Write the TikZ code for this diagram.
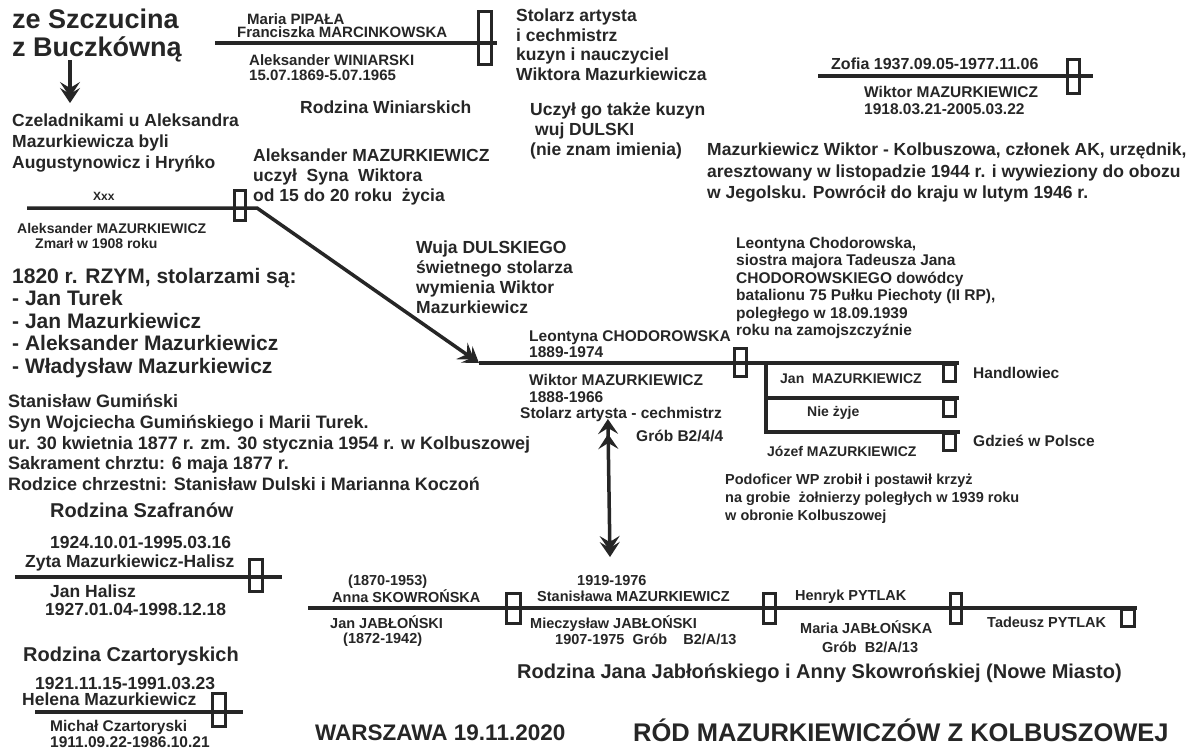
\documentclass[tikz,border=0pt]{standalone}
\usepackage{fontspec}
\setmainfont{Liberation Sans}
\usetikzlibrary{arrows.meta}
\definecolor{ink}{HTML}{262626}
\tikzset{
  tx/.style={anchor=base west, inner sep=0pt, text=ink},
  fs/.style={font=\bfseries\fontsize{#1}{#1}\selectfont},
  sm/.style={tx, fs=14.5},
  md/.style={tx, fs=17.5},
  lg/.style={tx, fs=20},
  famline/.style={draw=ink, line width=3.5pt},
  grave/.style={draw=ink, line width=3pt, inner sep=0pt, minimum width=12pt, minimum height=31pt},
  kidbox/.style={draw=ink, line width=3pt, inner sep=0pt, minimum width=12pt, minimum height=17pt, anchor=north east},
  barbtip/.style={-{Stealth[length=15pt,width=20pt,inset=6pt,sep=-9pt] Stealth[length=15pt,width=20pt,inset=6pt]}},
  barbboth/.style={{Stealth[length=15pt,width=20pt,inset=6pt,sep=-9pt] Stealth[length=15pt,width=20pt,inset=6pt]}-{Stealth[length=15pt,width=20pt,inset=6pt,sep=-9pt] Stealth[length=15pt,width=20pt,inset=6pt]}}
}
\begin{document}
\begin{tikzpicture}[x=1pt,y=-1pt]
\fill[white] (0,0) rectangle (1198,748);
\useasboundingbox (0,0) rectangle (1198,748);

% --- origin of the family ---
\node[tx,fs=27] (orig1) at (12,28) {ze Szczucina};
\node[tx,fs=27] (orig2) at (12,56) {z Buczkówną};
\coordinate (arrA) at (70,60);
\coordinate (arrB) at (70,103);
\draw[ink, line width=3.5pt, barbtip] (arrA) -- (arrB);

\node[md] (cz1) at (12,126) {Czeladnikami u Aleksandra};
\node[md] (cz2) at (12,147) {Mazurkiewicza byli};
\node[md] (cz3) at (12,168) {Augustynowicz i Hryńko};

% --- Winiarski family ---
\coordinate (winL) at (215,43);
\coordinate (winR) at (497,43);
\draw[famline] (winL) -- (winR);
\node[grave, minimum width=13pt, minimum height=53pt] (winG) at (484.5,37.5) {};
\node[tx,fs=15] (win1) at (247,24) {Maria PIPAŁA};
\node[tx,fs=15] (win2) at (237,37) {Franciszka MARCINKOWSKA};
\node[tx,fs=15] (win3) at (249,65) {Aleksander WINIARSKI};
\node[tx,fs=15] (win4) at (249,80) {15.07.1869-5.07.1965};
\node[md] (winT) at (300,113) {Rodzina Winiarskich};

\node[md] (st1) at (516,21.5) {Stolarz artysta};
\node[md] (st2) at (516,41) {i cechmistrz};
\node[md] (st3) at (516,60.5) {kuzyn i nauczyciel};
\node[md] (st4) at (516,80) {Wiktora Mazurkiewicza};

\node[md] (uc1) at (530,115) {Uczył go także kuzyn};
\node[md] (uc2) at (535,135) {wuj DULSKI};
\node[md] (uc3) at (530,155) {(nie znam imienia)};

% --- Wiktor (1918) and Zofia ---
\coordinate (zofL) at (818,76);
\coordinate (zofR) at (1093,76);
\draw[famline] (zofL) -- (zofR);
\node[grave, minimum height=34pt] (zofG) at (1073,76.5) {};
\node[tx,fs=16] (zof1) at (831,69) {Zofia 1937.09.05-1977.11.06};
\node[tx,fs=15.5] (zof2) at (864,97) {Wiktor MAZURKIEWICZ};
\node[tx,fs=15.5] (zof3) at (864,114) {1918.03.21-2005.03.22};

\node[md] (wk1) at (707,155) {Mazurkiewicz Wiktor - Kolbuszowa, członek AK, urzędnik,};
\node[md] (wk2) at (707,177) {aresztowany w listopadzie 1944 r. i wywieziony do obozu};
\node[md] (wk3) at (707,198) {w Jegolsku. Powrócił do kraju w lutym 1946 r.};

% --- Aleksander Mazurkiewicz ---
\node[md] (al1) at (253,161) {Aleksander MAZURKIEWICZ};
\node[md] (al2) at (253,181) {uczył\ \ Syna\ \ Wiktora};
\node[md] (al3) at (253,201) {od 15 do 20 roku\ \ życia};

\coordinate (aleL) at (27,208);
\coordinate (aleK) at (257,208);
\coordinate (chL) at (479,363);
\draw[famline, line join=miter, barbtip] (aleL) -- (aleK) -- (chL);
\node[grave, minimum width=11pt, minimum height=30pt] (aleG) at (240,205.5) {};
\node[tx,fs=12] (ale0) at (93,200) {Xxx};
\node[tx,fs=14] (ale1) at (17,233) {Aleksander MAZURKIEWICZ};
\node[tx,fs=14] (ale2) at (35,248) {Zmarł w 1908 roku};

% --- Rome 1820 ---
\node[tx,fs=21] (rz1) at (12,283) {1820 r. RZYM, stolarzami są:};
\node[tx,fs=21] (rz2) at (12,305.5) {- Jan Turek};
\node[tx,fs=21] (rz3) at (12,328) {- Jan Mazurkiewicz};
\node[tx,fs=21] (rz4) at (12,350.5) {- Aleksander Mazurkiewicz};
\node[tx,fs=21] (rz5) at (12,373) {- Władysław Mazurkiewicz};

\node[tx,fs=18] (gu1) at (8,407) {Stanisław Gumiński};
\node[tx,fs=18] (gu2) at (8,428) {Syn Wojciecha Gumińskiego i Marii Turek.};
\node[tx,fs=18] (gu3) at (8,449) {ur. 30 kwietnia 1877 r. zm. 30 stycznia 1954 r. w Kolbuszowej};
\node[tx,fs=18] (gu4) at (8,469.5) {Sakrament chrztu: 6 maja 1877 r.};
\node[tx,fs=18] (gu5) at (8,490) {Rodzice chrzestni: Stanisław Dulski i Marianna Koczoń};

% --- Szafran family ---
\node[lg] (szT) at (50,517) {Rodzina Szafranów};
\node[md] (sz1) at (50,548) {1924.10.01-1995.03.16};
\node[md] (sz2) at (25,567) {Zyta Mazurkiewicz-Halisz};
\coordinate (szL) at (15,577);
\coordinate (szR) at (282,577);
\draw[famline] (szL) -- (szR);
\node[grave, minimum width=13pt, minimum height=32pt] (szG) at (256,575.5) {};
\node[md] (sz3) at (50,597) {Jan Halisz};
\node[md] (sz4) at (45,615) {1927.01.04-1998.12.18};

% --- Czartoryski family ---
\node[lg] (ctT) at (23,661) {Rodzina Czartoryskich};
\node[md] (ct1) at (35,689) {1921.11.15-1991.03.23};
\node[md] (ct2) at (22,705) {Helena Mazurkiewicz};
\coordinate (ctL) at (35,712);
\coordinate (ctR) at (243,712);
\draw[famline] (ctL) -- (ctR);
\node[grave, minimum width=13pt, minimum height=33pt] (ctG) at (219,710) {};
\node[tx,fs=15.5] (ct3) at (50,731) {Michał Czartoryski};
\node[tx,fs=15.5] (ct4) at (50,747) {1911.09.22-1986.10.21};

% --- Wiktor (1888) and Leontyna ---
\node[md] (du1) at (416,253) {Wuja DULSKIEGO};
\node[md] (du2) at (416,273) {świetnego stolarza};
\node[md] (du3) at (416,293) {wymienia Wiktor};
\node[md] (du4) at (416,313) {Mazurkiewicz};

\coordinate (chR) at (958.5,363);
\draw[famline] (chL) -- (chR);
\node[grave, minimum height=28pt] (chG) at (740.5,362.5) {};
\node[tx,fs=15.5] (ch1) at (529,341) {Leontyna CHODOROWSKA};
\node[tx,fs=15.5] (ch2) at (529,357) {1889-1974};
\node[tx,fs=15.5] (ch3) at (529,385) {Wiktor MAZURKIEWICZ};
\node[tx,fs=15.5] (ch4) at (529,402) {1888-1966};
\node[tx,fs=15.5] (ch5) at (520,418) {Stolarz artysta - cechmistrz};
\node[tx,fs=15.5] (ch6) at (636,441) {Grób B2/4/4};

\node[tx,fs=15.5] (lc1) at (736,248) {Leontyna Chodorowska,};
\node[tx,fs=15.5] (lc2) at (736,265.5) {siostra majora Tadeusza Jana};
\node[tx,fs=15.5] (lc3) at (736,283) {CHODOROWSKIEGO dowódcy};
\node[tx,fs=15.5] (lc4) at (736,300.5) {batalionu 75 Pułku Piechoty (II RP),};
\node[tx,fs=15.5] (lc5) at (736,318) {poległego w 18.09.1939};
\node[tx,fs=15.5] (lc6) at (736,335.5) {roku na zamojszczyźnie};

% children
\coordinate (kTop) at (766,363);
\coordinate (kMid) at (766,398);
\coordinate (kBot) at (766,432);
\coordinate (kMidR) at (958.5,398);
\coordinate (kBotR) at (958.5,432);
\draw[famline] (kTop) -- (kBot);
\draw[famline] (kMid) -- (kMidR);
\draw[famline, line cap=rect] (kBot) -- (kBotR);
\node[kidbox] (kJan) at (957,363) {};
\node[kidbox] (kNie) at (957,398) {};
\node[kidbox] (kJoz) at (957,432) {};
\node[tx,fs=14] (kj1) at (780,383) {Jan\ \ MAZURKIEWICZ};
\node[tx,fs=14] (kn1) at (807,416) {Nie żyje};
\node[tx,fs=14] (kz1) at (767,456) {Józef MAZURKIEWICZ};
\node[tx,fs=15.5] (kj2) at (973,378) {Handlowiec};
\node[tx,fs=15.5] (kz2) at (973,446) {Gdzieś w Polsce};

\node[tx,fs=14.5] (po1) at (725,484) {Podoficer WP zrobił i postawił krzyż};
\node[tx,fs=14.5] (po2) at (725,502) {na grobie\ \ żołnierzy poległych w 1939 roku};
\node[tx,fs=14.5] (po3) at (725,520) {w obronie Kolbuszowej};

% link between the two generations
\coordinate (lnA) at (608,428);
\coordinate (lnB) at (610,557);
\draw[ink, line width=3.5pt, barbboth] (lnA) -- (lnB);

% --- Jabłoński family ---
\coordinate (jbL) at (308,608);
\coordinate (jbR) at (1137,608);
\draw[famline] (jbL) -- (jbR);
\node[grave, minimum width=14pt, minimum height=30pt] (jbG1) at (513.5,608.5) {};
\node[grave, minimum height=30pt] (jbG2) at (769.5,608.5) {};
\node[grave, minimum width=11pt, minimum height=30pt] (jbG3) at (956,608.5) {};
\node[kidbox, minimum width=13pt] (jbK) at (1135.5,608) {};

\node[sm] (jb1) at (348,585) {(1870-1953)};
\node[sm] (jb2) at (332,602) {Anna SKOWROŃSKA};
\node[sm] (jb3) at (330,628) {Jan JABŁOŃSKI};
\node[sm] (jb4) at (343,643) {(1872-1942)};
\node[sm] (jb5) at (577,585) {1919-1976};
\node[sm] (jb6) at (537,601) {Stanisława MAZURKIEWICZ};
\node[sm] (jb7) at (530,628) {Mieczysław JABŁOŃSKI};
\node[sm] (jb8) at (555,644) {1907-1975\ \ Grób\ \ \ \ B2/A/13};
\node[sm] (jb9) at (795,600) {Henryk PYTLAK};
\node[sm] (jb10) at (800,633) {Maria JABŁOŃSKA};
\node[sm] (jb11) at (822,652) {Grób\ \ B2/A/13};
\node[sm] (jb12) at (987,627) {Tadeusz PYTLAK};
\node[lg] (jbT) at (517,678) {Rodzina Jana Jabłońskiego i Anny Skowrońskiej (Nowe Miasto)};

% --- footer ---
\node[tx,fs=22.5] (date) at (315,740) {WARSZAWA 19.11.2020};
\node[tx,fs=25.5] (title) at (633,741) {RÓD MAZURKIEWICZÓW Z KOLBUSZOWEJ};
\end{tikzpicture}
\end{document}
